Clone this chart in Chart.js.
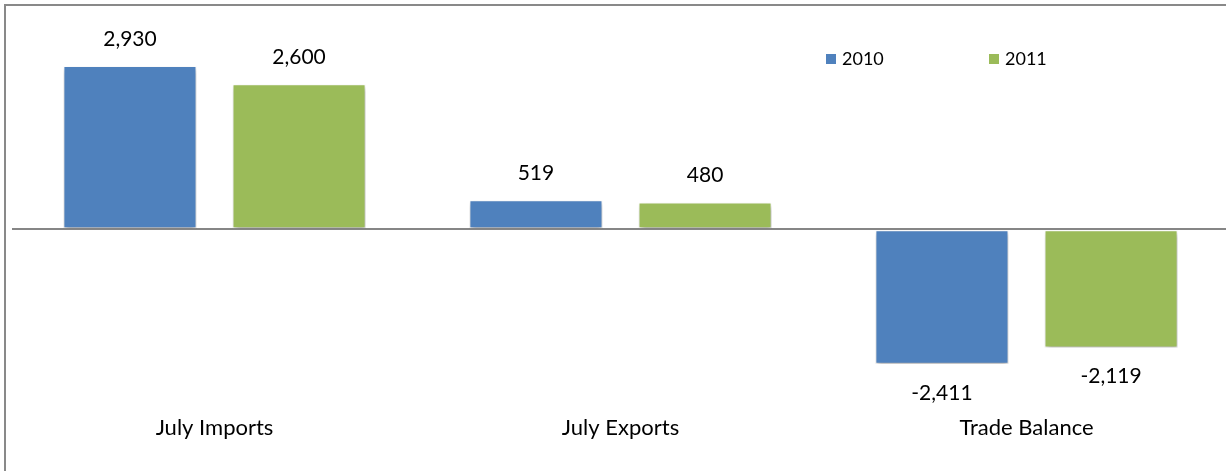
<!DOCTYPE html>
<html>
<head>
<meta charset="utf-8">
<script src="https://cdn.jsdelivr.net/npm/chart.js@4.4.1/dist/chart.umd.min.js"></script>
<style>
  html, body { margin: 0; padding: 0; background: #fff; overflow: hidden; }
  #wrap { position: relative; width: 1240px; height: 471px; }
</style>
</head>
<body>
<div id="wrap"><canvas id="tradeChart"></canvas></div>
<script>
// July trade figures, 2010 vs 2011
const categories = ['July Imports', 'July Exports', 'Trade Balance'];
const values2010 = [2930, 519, -2411];
const values2011 = [2600, 480, -2119];
const seriesLabels = ['2010', '2011'];

const FONT = 'Lato, "Open Sans", sans-serif';

// frame round the whole chart (right/bottom edges fall outside the window)
const framePlugin = {
  id: 'frame',
  beforeDraw(chart) {
    const ctx = chart.ctx;
    ctx.save();
    ctx.strokeStyle = '#898989';
    ctx.lineWidth = 2;
    ctx.strokeRect(5, 5, chart.width + 20, chart.height + 20);
    ctx.restore();
  }
};

// soft drop shadow behind the bars
const shadowPlugin = {
  id: 'barShadow',
  beforeDatasetsDraw(chart) {
    const ctx = chart.ctx;
    ctx.save();
    ctx.shadowColor = 'rgba(0,0,0,0.35)';
    ctx.shadowBlur = 5;
    ctx.shadowOffsetX = 1;
    ctx.shadowOffsetY = 3;
  },
  afterDatasetsDraw(chart) {
    chart.ctx.restore();
  }
};

// value labels above / below each bar
const valueLabels = {
  id: 'valueLabels',
  afterDatasetsDraw(chart) {
    const ctx = chart.ctx;
    ctx.save();
    ctx.font = '21px ' + FONT;
    ctx.fillStyle = '#000';
    ctx.textAlign = 'center';
    ctx.textBaseline = 'middle';
    chart.data.datasets.forEach((ds, i) => {
      chart.getDatasetMeta(i).data.forEach((bar, j) => {
        const v = ds.data[j];
        const y = v >= 0 ? bar.y - 27 : bar.y + 29;
        ctx.fillText(v.toLocaleString('en-US'), bar.x, y);
      });
    });
    ctx.restore();
  }
};

// legend drawn inside the plot, top right
const insideLegend = {
  id: 'insideLegend',
  afterDraw(chart) {
    const ctx = chart.ctx;
    ctx.save();
    ctx.font = '18px ' + FONT;
    ctx.textBaseline = 'middle';
    ctx.textAlign = 'left';
    chart.data.datasets.forEach((ds, i) => {
      const x = 826 + i * 163;
      ctx.fillStyle = ds.backgroundColor;
      ctx.fillRect(x, 54, 10, 10);
      ctx.fillStyle = '#000';
      ctx.fillText(ds.label, x + 16, 59);
    });
    ctx.restore();
  }
};

new Chart(document.getElementById('tradeChart'), {
  type: 'bar',
  data: {
    labels: categories,
    datasets: [
      {
        label: seriesLabels[0],
        data: values2010,
        backgroundColor: '#4F81BD',
        borderColor: '#ffffff',
        borderWidth: 1,
        borderSkipped: false
      },
      {
        label: seriesLabels[1],
        data: values2011,
        backgroundColor: '#9BBB59',
        borderColor: '#ffffff',
        borderWidth: 1,
        borderSkipped: false
      }
    ]
  },
  options: {
    responsive: true,
    maintainAspectRatio: false,
    animation: false,
    barPercentage: 0.787,
    categoryPercentage: 0.833,
    layout: { padding: { top: 62, left: 11.5, right: 10.5, bottom: 12 } },
    plugins: {
      legend: { display: false },
      tooltip: { enabled: false }
    },
    scales: {
      x: {
        grid: { display: false, drawTicks: false },
        border: { display: false },
        ticks: { color: '#000', padding: 18, font: { family: FONT, size: 22 } }
      },
      y: {
        min: -3000,
        max: 3000,
        z: 1,
        grid: {
          drawTicks: false,
          lineWidth: 2,
          color: c => (c.tick && c.tick.value === 0 ? '#868686' : 'rgba(0,0,0,0)')
        },
        border: { display: false },
        ticks: { display: false, stepSize: 1000 }
      }
    }
  },
  plugins: [framePlugin, shadowPlugin, valueLabels, insideLegend]
});
</script>
</body>
</html>
